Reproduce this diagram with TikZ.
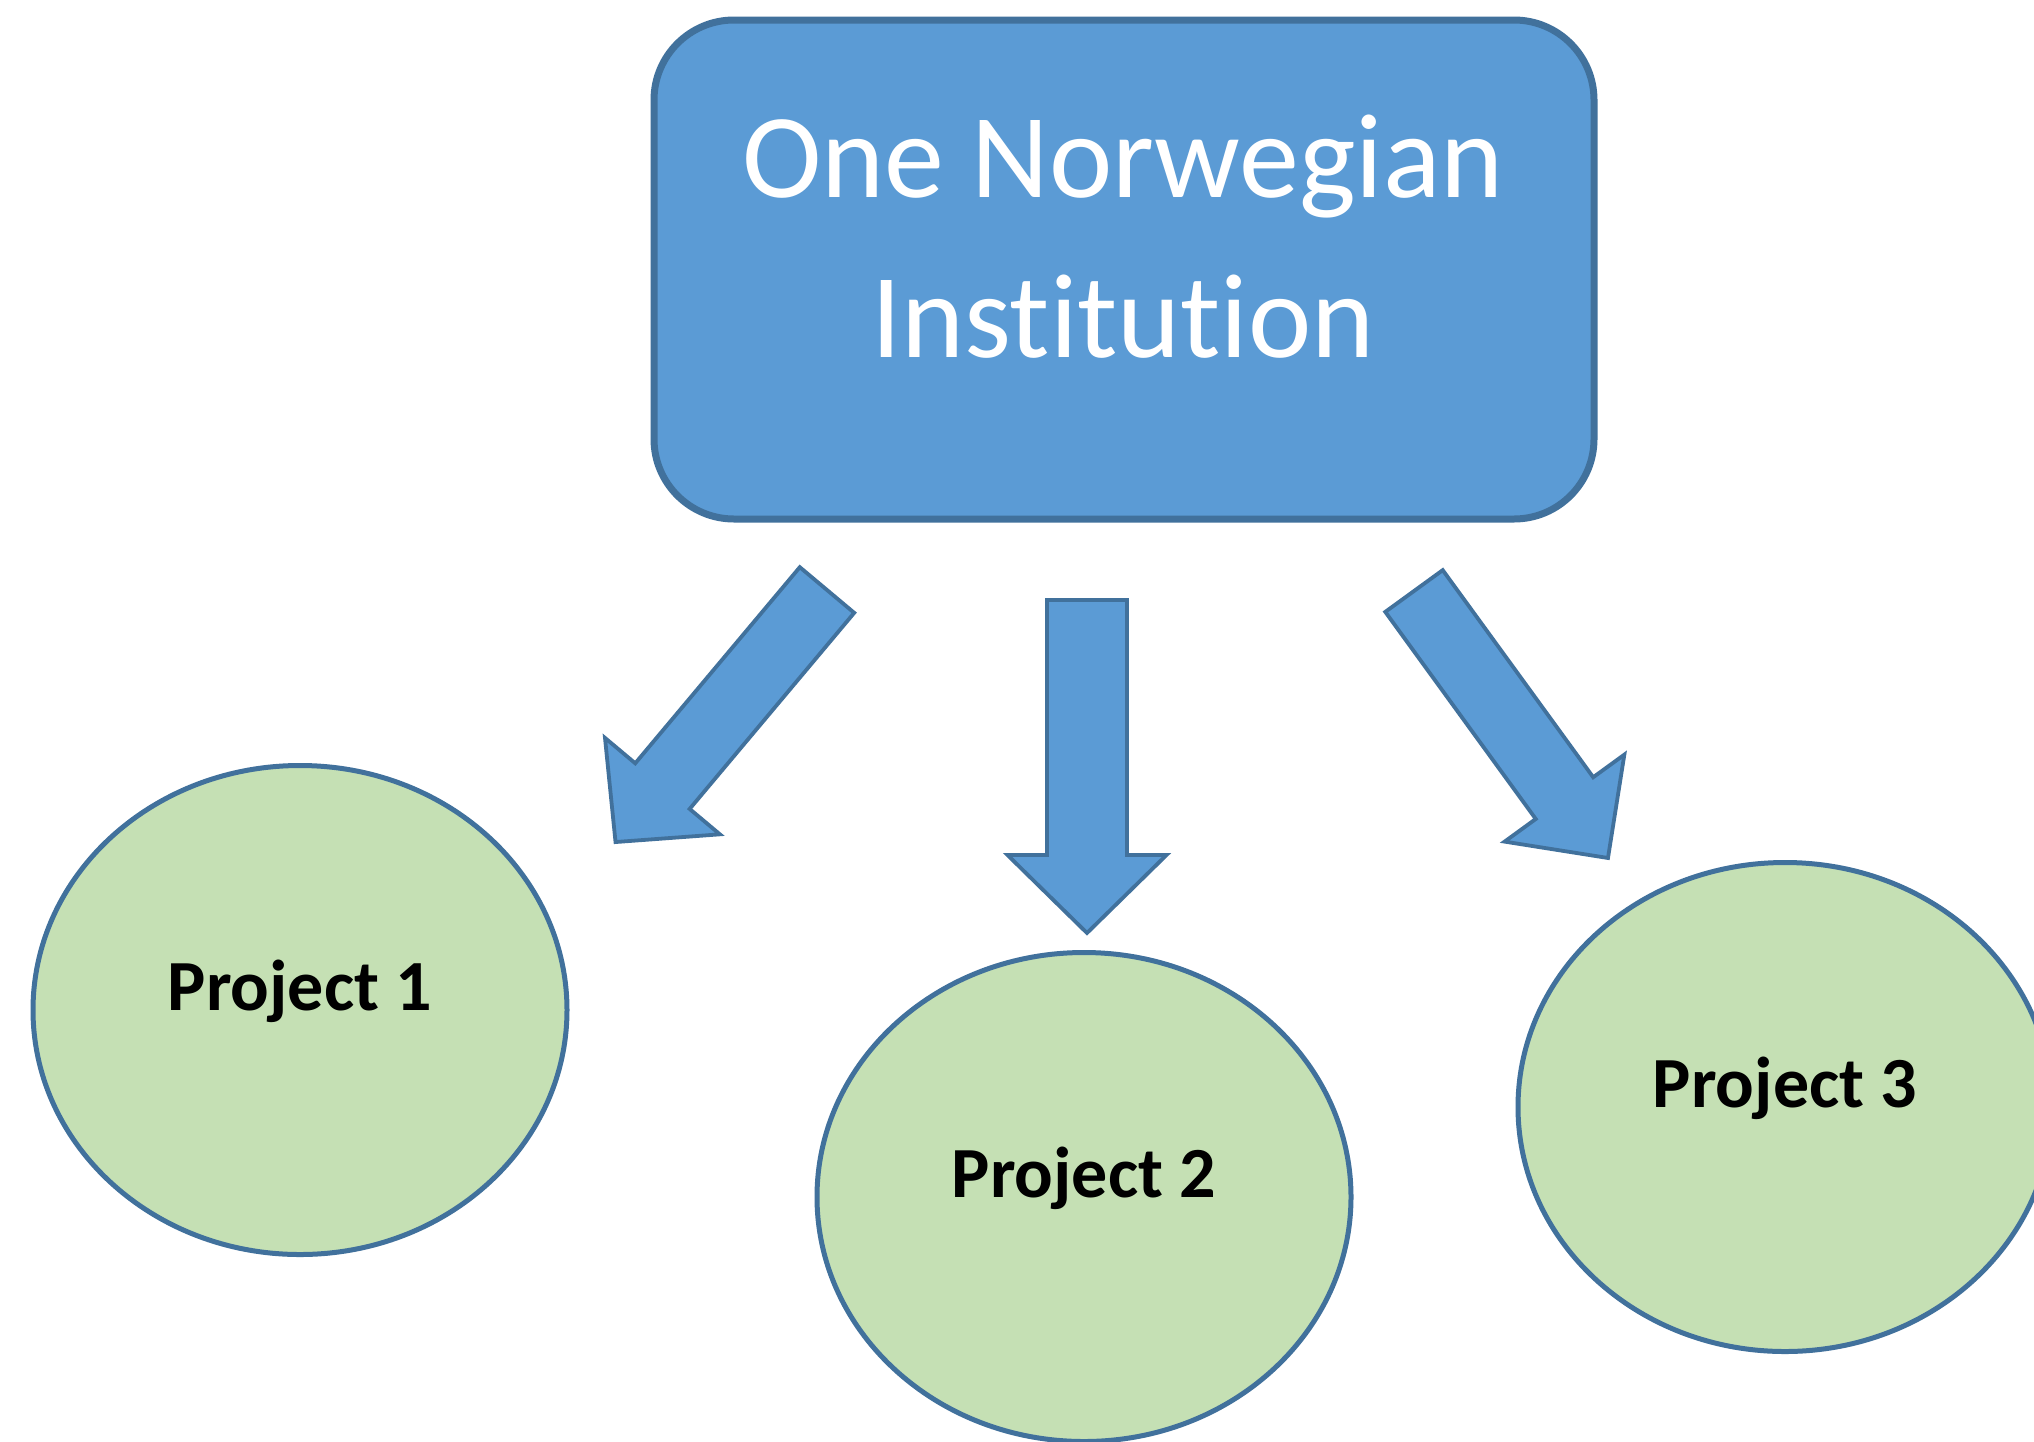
\documentclass[tikz,border=0pt]{standalone}
\usepackage{fontspec}
\setmainfont[RawFeature={-liga;-clig;-dlig}]{Carlito}
\usetikzlibrary{shapes.geometric}
\definecolor{boxblue}{HTML}{5B9BD5}
\definecolor{edgeblue}{HTML}{41719C}
\definecolor{projgreen}{HTML}{C5E0B4}
\tikzset{
  instbox/.style={draw=edgeblue, fill=boxblue, line width=3.5pt, rounded corners=40pt,
    minimum width=470pt, minimum height=249.5pt, inner sep=0pt},
  titletext/.style={text=white, font=\fontsize{60}{80}\selectfont, inner sep=0pt},
  projshape/.style={ellipse, draw=edgeblue, fill=projgreen, line width=2.5pt,
    minimum width=267pt, minimum height=244.5pt, inner sep=0pt},
  projtext/.style={text=black, font=\bfseries\fontsize{36}{43}\selectfont, inner sep=0pt, anchor=base},
  blockarrow/.style={draw=edgeblue, fill=boxblue, line width=1.9pt, line join=miter}
}
% #1 shaft width, #2 head width, #3 shaft length, #4 head length (local frame points down)
\newcommand{\BlkArrow}[4]{%
  \draw[blockarrow] (-#1/2,0) -- (#1/2,0) -- (#1/2,#3) -- (#2/2,#3) -- (0,#3+#4)
    -- (-#2/2,#3) -- (-#1/2,#3) -- cycle;}
\begin{document}
\begin{tikzpicture}[x=0.5pt, y=-0.5pt]
  \useasboundingbox (0,0) rectangle (2034,1441);
  \fill[white] (0,0) rectangle (2034,1441);
  \clip (0,0) rectangle (2034,1441);

  % institution box
  \node[instbox] (inst) at (1124,269.5) {};
  \node[titletext, anchor=base] (t1) at (1123,197) {One Norwegian};
  \node[titletext, anchor=base] (t2) at (1123,357) {Institution};

  % block arrows
  \begin{scope}[shift={(827,590)}, rotate=-40]
    \BlkArrow{71}{150}{256}{73}
  \end{scope}
  \begin{scope}[shift={(1087,600)}]
    \BlkArrow{80}{159}{255}{78}
  \end{scope}
  \begin{scope}[shift={(1414,591)}, rotate=36]
    \BlkArrow{71}{148}{256}{74}
  \end{scope}

  % projects
  \node[projshape] (p1) at (300,1010) {};
  \node[projtext] (l1) at (p1.center) {Project 1};
  \node[projshape] (p2) at (1084,1197) {};
  \node[projtext] (l2) at (p2.center) {Project 2};
  \node[projshape] (p3) at (1785,1107) {};
  \node[projtext] (l3) at (p3.center) {Project 3};
\end{tikzpicture}
\end{document}
